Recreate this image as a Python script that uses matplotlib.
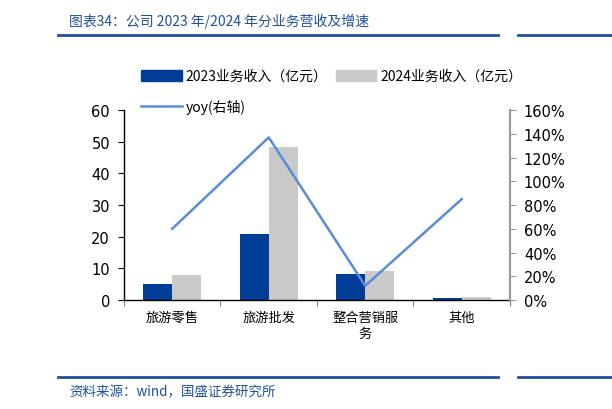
import matplotlib.pyplot as plt
import numpy as np
from matplotlib.lines import Line2D
from matplotlib.patches import Patch

plt.rcParams["font.family"] = ["Noto Sans CJK SC", "DejaVu Sans"]

categories = ["旅游零售", "旅游批发", "整合营销服\n务", "其他"]
revenue_2023 = [4.9, 20.7, 8.1, 0.5]
revenue_2024 = [7.8, 48.2, 9.1, 0.8]
yoy = [0.60, 1.37, 0.12, 0.85]

left_ticks = [0, 10, 20, 30, 40, 50, 60]
right_ticks = [0, 0.2, 0.4, 0.6, 0.8, 1.0, 1.2, 1.4, 1.6]

BLUE = "#003D97"
GRAY = "#C9C9C9"
LINE = "#5A8DD5"
TITLE = "#1F4F9F"

fig = plt.figure(figsize=(6.12, 4.10), dpi=100)
ax = fig.add_axes([0.2026, 0.2659, 0.6307, 0.4631])
ax2 = ax.twinx()

x = np.arange(len(categories))
w = 0.3
ax.bar(x - w / 2, revenue_2023, w, color=BLUE, zorder=2)
ax.bar(x + w / 2, revenue_2024, w, color=GRAY, zorder=2)
ax2.plot(x, yoy, color=LINE, lw=1.8, zorder=3)

ax.set_xlim(-0.5, len(categories) - 0.5)
ax.set_ylim(0, 60)
ax.set_yticks(left_ticks)
ax.set_yticklabels([str(t) for t in left_ticks], fontsize=10.5, family="DejaVu Sans")
ax2.set_ylim(0, 1.6)
ax2.set_yticks(right_ticks)
ax2.set_yticklabels([f"{int(round(t * 100))}%" for t in right_ticks], fontsize=10.5, family="DejaVu Sans")

ax.set_xticks(np.arange(len(categories) + 1) - 0.5)
ax.set_xticklabels([])
ax.set_xticks(x, minor=True)
ax.set_xticklabels(categories, minor=True, fontsize=9.5, linespacing=1.3)
ax.tick_params(axis="x", which="minor", length=0, pad=8)
ax.tick_params(axis="x", which="major", length=4, color="#888888")
ax.tick_params(axis="y", length=4, pad=6)
ax2.tick_params(axis="y", length=4, color="#999999", pad=6)

for a in (ax, ax2):
    a.spines["top"].set_visible(False)
ax2.spines["left"].set_visible(False)
ax2.spines["bottom"].set_visible(False)
ax2.spines["right"].set_color("#999999")
ax2.spines["right"].set_linewidth(1.5)
ax.spines["right"].set_visible(False)
ax.spines["left"].set_linewidth(1.0)
ax.spines["bottom"].set_linewidth(1.0)

# legend rows sit above the plot, like the source layout
handles = [Patch(color=BLUE), Patch(color=GRAY)]
fig.legend(handles, ["2023业务收入（亿元）", "2024业务收入（亿元）"], ncol=2,
           loc="center left", bbox_to_anchor=(0.231, 0.812), frameon=False,
           fontsize=10, handlelength=2.9, handleheight=0.8, handletextpad=0.3,
           columnspacing=0.6, borderpad=0, borderaxespad=0)
fig.legend([Line2D([], [], color=LINE, lw=1.8)], ["yoy(右轴)"],
           loc="center left", bbox_to_anchor=(0.231, 0.737), frameon=False,
           fontsize=10, handlelength=2.9, handletextpad=0.3,
           borderpad=0, borderaxespad=0)

fig.text(0.113, 0.948, "图表34：公司 2023 年/2024 年分业务营收及增速", fontsize=10,
         color=TITLE, va="center", style="italic")
fig.add_artist(Line2D([0.095, 0.814], [0.912, 0.912], color=TITLE, lw=2))
fig.add_artist(Line2D([0.846, 1.0], [0.912, 0.912], color=TITLE, lw=2))
fig.add_artist(Line2D([0.095, 0.814], [0.078, 0.078], color=TITLE, lw=2))
fig.add_artist(Line2D([0.846, 1.0], [0.078, 0.078], color=TITLE, lw=2))
fig.text(0.113, 0.044, "资料来源：wind，国盛证券研究所", fontsize=9.7,
         color=TITLE, va="center", style="italic")

fig.savefig("out.png", dpi=100)
